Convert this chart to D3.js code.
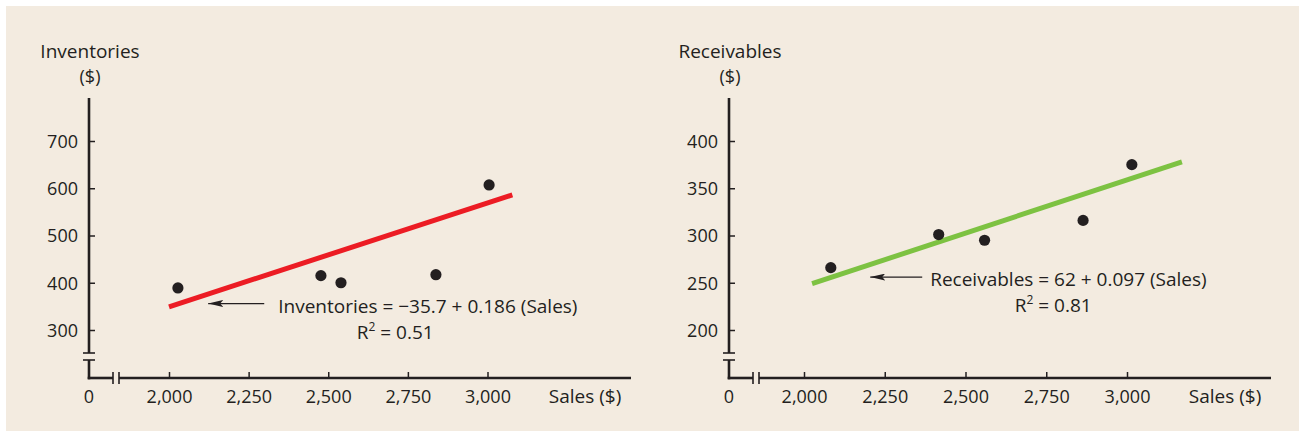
<!DOCTYPE html>
<html>
<head>
<meta charset="utf-8">
<script src="https://cdn.jsdelivr.net/npm/d3@7"></script>
<style>
  html, body { margin: 0; padding: 0; background: #ffffff; }
  svg { display: block; }
  text { font-family: "Open Sans", "Noto Sans", sans-serif; fill: #231f20; }
</style>
</head>
<body>
<svg id="chart" width="1305" height="437"></svg>
<script>
// Sales vs. inventories
const invSales  = [2028, 2477, 2540, 2838, 3005];
const invValues = [389, 415, 400, 417, 607];
const invFitSales  = [2000, 3078];
const invFitValues = [349, 586];
const invTicksY = [300, 400, 500, 600, 700];

// Sales vs. receivables
const recSales  = [2083, 2417, 2559, 2864, 3015];
const recValues = [266, 301, 295, 316, 375];
const recFitSales  = [2025, 3170];
const recFitValues = [249, 378];
const recTicksY = [200, 250, 300, 350, 400];

const salesTicks = [2000, 2250, 2500, 2750, 3000];

const panels = [
  {
    title: "Inventories", sales: invSales, values: invValues,
    fitSales: invFitSales, fitValues: invFitValues, ticksY: invTicksY,
    domainY: [300, 700], color: "#ec1c24",
    originX: 89, xRange: [169, 487.5],
    eqText: "Inventories = \u221235.7 + 0.186 (Sales)", r2: "0.51", eqDx: 14,
    arrowFrom: [2299, 356], arrowTo: [2123, 356]
  },
  {
    title: "Receivables", sales: recSales, values: recValues,
    fitSales: recFitSales, fitValues: recFitValues, ticksY: recTicksY,
    domainY: [200, 400], color: "#7dc242",
    originX: 729, xRange: [804, 1127],
    eqText: "Receivables = 62 + 0.097 (Sales)", r2: "0.81", eqDx: 8,
    arrowFrom: [2366, 256], arrowTo: [2205, 256]
  }
];

const svg = d3.select("#chart");
const ink = "#231f20";
const labelSize = "19px";
const tickSize = "18px";

// panel background
svg.append("rect")
  .attr("x", 6).attr("y", 6)
  .attr("width", 1293).attr("height", 425)
  .attr("fill", "#f3ebe0");

svg.append("defs").append("marker")
  .attr("id", "arrowhead")
  .attr("viewBox", "0 0 15 7")
  .attr("refX", 15).attr("refY", 3.5)
  .attr("markerWidth", 15).attr("markerHeight", 7)
  .attr("markerUnits", "userSpaceOnUse")
  .attr("orient", "auto")
  .append("path")
  .attr("d", "M0,0 L15,3.5 L0,7 L3,3.5 Z")
  .attr("fill", ink);

const yTop = 98, yBreak = 353, yBase = 378;

panels.forEach(p => {
  const x = d3.scaleLinear().domain([2000, 3000]).range(p.xRange);
  const y = d3.scaleLinear().domain(p.domainY).range([330, 141]);
  const g = svg.append("g");
  const x0 = p.originX;
  const xEnd = x0 + 542;

  // y axis with break
  g.append("line").attr("x1", x0).attr("x2", x0).attr("y1", yTop).attr("y2", yBreak)
    .attr("stroke", ink).attr("stroke-width", 2.6);
  g.append("line").attr("x1", x0).attr("x2", x0).attr("y1", yBreak + 7).attr("y2", yBase + 1.3)
    .attr("stroke", ink).attr("stroke-width", 2.6);
  [yBreak, yBreak + 7].forEach(yy => g.append("line")
    .attr("x1", x0 - 6).attr("x2", x0 + 6).attr("y1", yy).attr("y2", yy)
    .attr("stroke", ink).attr("stroke-width", 1.6));

  // x axis with break
  const xb = x0 + 24;
  g.append("line").attr("x1", x0 - 1.3).attr("x2", xb).attr("y1", yBase).attr("y2", yBase)
    .attr("stroke", ink).attr("stroke-width", 2.6);
  g.append("line").attr("x1", xb + 6).attr("x2", xEnd).attr("y1", yBase).attr("y2", yBase)
    .attr("stroke", ink).attr("stroke-width", 2.6);
  [xb, xb + 6].forEach(xx => g.append("line")
    .attr("x1", xx).attr("x2", xx).attr("y1", yBase - 6).attr("y2", yBase + 6)
    .attr("stroke", ink).attr("stroke-width", 1.6));

  // y ticks
  const yAxis = g.append("g").attr("transform", `translate(${x0},0)`)
    .call(d3.axisRight(y).tickValues(p.ticksY).tickSize(6).tickFormat(d3.format("d")));
  yAxis.select(".domain").remove();
  yAxis.selectAll(".tick line").attr("stroke", ink).attr("stroke-width", 1.5);
  yAxis.selectAll(".tick text")
    .attr("x", -11).attr("dy", "0.36em")
    .attr("text-anchor", "end")
    .style("font-size", tickSize).style("font-family", null).attr("fill", ink);

  // x ticks
  const xAxis = g.append("g").attr("transform", `translate(0,${yBase})`)
    .call(d3.axisTop(x).tickValues(salesTicks).tickSize(6).tickFormat(d3.format(",")));
  xAxis.select(".domain").remove();
  xAxis.selectAll(".tick line").attr("stroke", ink).attr("stroke-width", 1.5);
  xAxis.selectAll(".tick text")
    .attr("y", 25).attr("dy", 0)
    .attr("text-anchor", "middle")
    .style("font-size", tickSize).style("font-family", null).attr("fill", ink);

  // origin label
  g.append("text").attr("x", x0).attr("y", yBase + 25)
    .attr("text-anchor", "middle").style("font-size", tickSize).text("0");

  // y-axis title on two lines
  g.append("text").attr("x", x0 + 1).attr("y", 58)
    .attr("text-anchor", "middle").style("font-size", labelSize).text(p.title);
  g.append("text").attr("x", x0 + 1).attr("y", 83)
    .attr("text-anchor", "middle").style("font-size", tickSize).text("($)");

  g.append("text").attr("x", xEnd - 46).attr("y", yBase + 25)
    .attr("text-anchor", "middle").style("font-size", labelSize).text("Sales ($)");

  // regression line
  const fit = d3.zip(p.fitSales, p.fitValues);
  g.append("path")
    .datum(fit)
    .attr("d", d3.line().x(d => x(d[0])).y(d => y(d[1])))
    .attr("stroke", p.color).attr("stroke-width", 5).attr("fill", "none");

  // observations
  g.selectAll("circle.obs")
    .data(d3.zip(p.sales, p.values))
    .join("circle")
    .attr("class", "obs")
    .attr("cx", d => x(d[0])).attr("cy", d => y(d[1]))
    .attr("r", 5.6).attr("fill", ink);

  // annotation arrow and equation
  const ax1 = x(p.arrowFrom[0]), ay = y(p.arrowFrom[1]);
  const ax2 = x(p.arrowTo[0]);
  g.append("line")
    .attr("x1", ax1).attr("y1", ay).attr("x2", ax2).attr("y2", ay)
    .attr("stroke", ink).attr("stroke-width", 1.3)
    .attr("marker-end", "url(#arrowhead)");

  g.append("text").attr("x", ax1 + p.eqDx).attr("y", ay + 9)
    .style("font-size", labelSize).text(p.eqText);
  const r2 = g.append("text").attr("x", ax1 + 131).attr("y", ay + 35)
    .attr("text-anchor", "middle").style("font-size", labelSize);
  r2.append("tspan").text("R");
  r2.append("tspan").attr("dy", -8).style("font-size", "12px").text("2");
  r2.append("tspan").attr("dy", 8).text(" = " + p.r2);
});
</script>
</body>
</html>
